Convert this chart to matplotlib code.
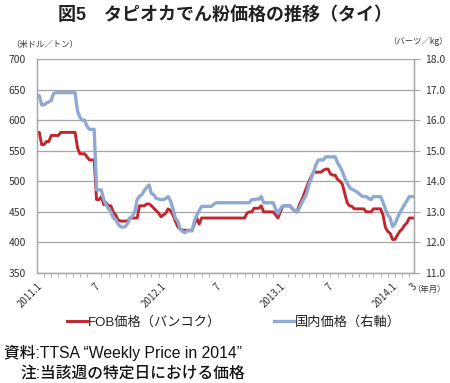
import numpy as np
import matplotlib
matplotlib.use("Agg")
import matplotlib.pyplot as plt
from matplotlib.ticker import FixedLocator, MultipleLocator, FormatStrFormatter

plt.rcParams['font.family'] = ['Noto Sans CJK JP', 'DejaVu Sans']
mixed = ['Liberation Sans', 'Noto Sans CJK JP']

# weekly FOB price, Bangkok (USD/t), 2011.1 - 2014.3
fob = [580, 580, 560, 560, 565, 565, 575, 575, 575, 575,
       580, 580, 580, 580, 580, 580, 580, 555, 545, 545,
       545, 540, 535, 535, 535, 470, 470, 475, 462, 465,
       460, 460, 450, 445, 437, 435, 435, 435, 435, 440,
       440, 440, 440, 460, 460, 460, 463, 463, 460, 456,
       452, 448, 442, 445, 448, 455, 452, 445, 435, 426,
       422, 420, 420, 420, 420, 420, 430, 440, 430, 440,
       440, 440, 440, 440, 440, 440, 440, 440, 440, 440,
       440, 440, 440, 440, 440, 440, 440, 440, 448, 450,
       450, 456, 456, 456, 460, 450, 450, 450, 450, 450,
       445, 440, 450, 459, 460, 460, 460, 455, 452, 450,
       462, 470, 480, 490, 500, 508, 515, 515, 515, 515,
       518, 520, 520, 512, 510, 510, 503, 500, 495, 480,
       465, 460, 459, 455, 455, 455, 455, 455, 450, 450,
       450, 455, 455, 455, 455, 445, 425, 418, 415, 405,
       405, 412, 418, 422, 428, 432, 440, 440, 440]

# weekly domestic price (baht/kg, right axis)
domestic = [16.8, 16.8, 16.5, 16.5, 16.56, 16.6, 16.64, 16.88, 16.9, 16.9,
            16.9, 16.9, 16.9, 16.9, 16.9, 16.9, 16.9, 16.3, 16.1, 16.0,
            16.0, 15.8, 15.7, 15.7, 15.7, 13.72, 13.72, 13.72, 13.4, 13.24,
            13.1, 13.0, 12.8, 12.76, 12.6, 12.52, 12.5, 12.52, 12.62, 12.8,
            12.86, 13.0, 13.4, 13.52, 13.56, 13.7, 13.8, 13.88, 13.6, 13.56,
            13.44, 13.42, 13.4, 13.4, 13.44, 13.5, 13.36, 13.1, 12.8, 12.7,
            12.44, 12.36, 12.32, 12.38, 12.38, 12.38, 12.7, 12.9, 13.04, 13.18,
            13.18, 13.18, 13.18, 13.18, 13.24, 13.3, 13.3, 13.3, 13.3, 13.3,
            13.3, 13.3, 13.3, 13.3, 13.3, 13.3, 13.3, 13.3, 13.3, 13.3,
            13.4, 13.4, 13.42, 13.42, 13.5, 13.3, 13.3, 13.3, 13.3, 13.3,
            13.1, 12.94, 13.1, 13.2, 13.2, 13.2, 13.2, 13.12, 13.04, 13.0,
            13.12, 13.3, 13.44, 13.6, 13.9, 14.1, 14.32, 14.56, 14.7, 14.7,
            14.7, 14.8, 14.8, 14.8, 14.8, 14.8, 14.6, 14.48, 14.32, 14.1,
            13.94, 13.8, 13.74, 13.7, 13.66, 13.6, 13.52, 13.5, 13.5, 13.44,
            13.4, 13.5, 13.5, 13.5, 13.5, 13.32, 13.1, 12.9, 12.8, 12.52,
            12.6, 12.8, 12.96, 13.1, 13.24, 13.36, 13.5, 13.5, 13.5]

label_pos = [0, 24, 52, 75, 102, 122, 149, 157]
label_txt = ['2011.1', '7', '2012.1', '7', '2013.1', '7', '2014.1', '3']

weeks = np.arange(len(fob))
grey = '#a6a6a6'
txt = '#333333'

fig = plt.figure(figsize=(4.5, 3.83), dpi=100)
ax = fig.add_axes([0.082, 0.287, 0.838, 0.559])
ax2 = ax.twinx()

ax.plot(weeks, fob, color='#c0262b', lw=2.1, solid_joinstyle='round')
ax2.plot(weeks, domestic, color='#8ea9d2', lw=2.4, solid_joinstyle='round')

ax.set_xlim(0, len(fob) - 1)
ax.set_ylim(350, 700)
ax.set_yticks(range(350, 701, 50))
ax2.set_ylim(11, 18)
ax2.set_yticks(np.arange(11, 18.01, 1))
ax2.yaxis.set_major_formatter(FormatStrFormatter('%.1f'))

ax.grid(axis='y', color=grey, lw=0.9)
ax.set_axisbelow(True)
for a in (ax, ax2):
    for s in a.spines.values():
        s.set_color(grey)
        s.set_linewidth(0.9)
    a.spines['top'].set_visible(False)

ax.tick_params(axis='y', length=0, labelsize=7.5, labelcolor=txt, pad=8)
ax2.tick_params(axis='y', length=4, color=grey, labelsize=7.5, labelcolor=txt, pad=4)

ax.xaxis.set_major_locator(FixedLocator(label_pos))
ax.set_xticklabels(label_txt, rotation=45, ha='right', rotation_mode='anchor',
                   fontsize=7, color=txt)
ax.xaxis.set_minor_locator(MultipleLocator(3))
ax.tick_params(axis='x', which='major', length=0, pad=6)
ax.tick_params(axis='x', which='minor', length=3, color=grey)

fig.text(0.5, 0.962, '図5　タピオカでん粉価格の推移（タイ）', ha='center', va='center',
         fontsize=13, fontweight='bold', color='#222222', family=mixed)
fig.text(0.025, 0.885, '（米ドル／トン）', fontsize=6, color=txt, va='center')
fig.text(0.995, 0.893, '（バーツ／kg）', fontsize=6, color=txt, va='center', ha='right')
fig.text(0.915, 0.243, '（年月）', fontsize=6, color=txt, va='center')

fig.legend([ax.lines[0], ax2.lines[0]], ['FOB価格（バンコク）', '国内価格（右軸）'],
           loc='center', bbox_to_anchor=(0.52, 0.158), ncol=2, frameon=False,
           prop={'family': mixed, 'size': 9.5}, handlelength=1.5,
           handletextpad=0.1, columnspacing=4.0, labelcolor='#222222')

fig.text(0.008, 0.078, '資料:TTSA “Weekly Price in 2014”', fontsize=11.3,
         color='#111111', va='center', family=mixed, fontweight='medium')
fig.text(0.045, 0.025, '注:当該週の特定日における価格', fontsize=11.3,
         color='#111111', va='center', family=mixed, fontweight='medium')

fig.savefig('out.png', dpi=100)
